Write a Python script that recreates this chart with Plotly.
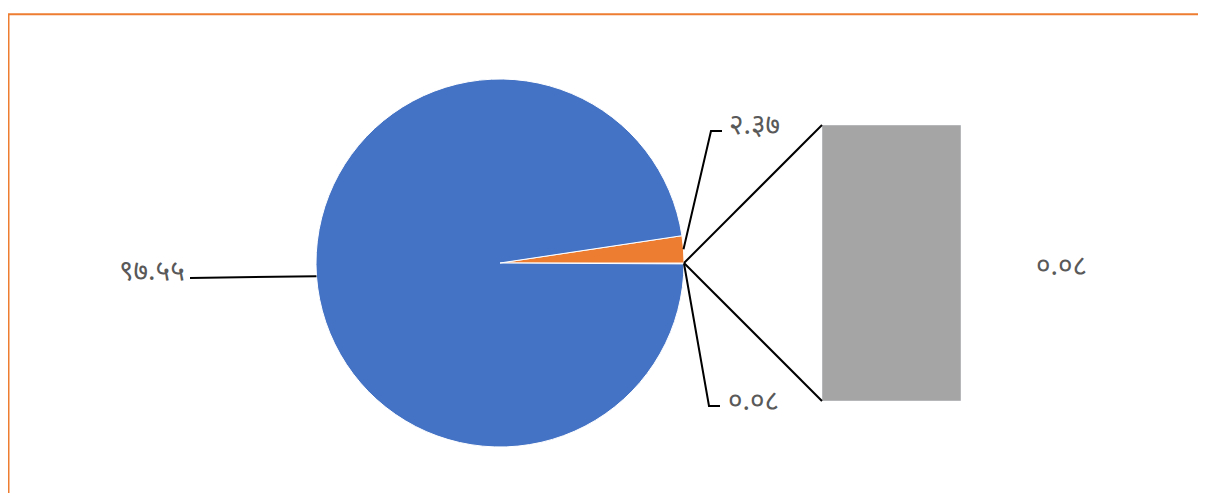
import math
import plotly.graph_objects as go

# डाटा (प्रतिशत) - Excel "bar of pie"
labels = ["अन्य", "दोस्रो", "पहिलो"]
values = [0.08, 2.37, 97.55]
bar_values = [0.08]
colors = ["#A5A5A5", "#ED7D31", "#4472C4"]

W, H = 1198, 485
OFF = 8  # page body margin
DEV = str.maketrans("0123456789", "०१२३४५६७८९")


def nep(v):
    return f"{v:.2f}".translate(DEV)


def px(x, y):
    # screen pixel -> paper
    return (x - OFF) / W, 1 - (y - OFF) / H


CX, CY, R = 500, 263, 184
BX0, BX1, BY0, BY1 = 822, 961, 125, 401
TEXT = "#595959"
LINE = dict(color="black", width=2)

fig = go.Figure()
fig.add_trace(go.Pie(
    labels=labels, values=values, sort=False,
    direction="counterclockwise", rotation=90,
    marker=dict(colors=colors, line=dict(color="white", width=1)),
    textinfo="none", hoverinfo="label+value", showlegend=False,
    domain=dict(x=[px(CX - R, 0)[0], px(CX + R, 0)[0]],
                y=[px(0, CY + R)[1], px(0, CY - R)[1]]),
))
fig.add_trace(go.Bar(
    x=[0], y=bar_values, marker_color=colors[0], width=1,
    showlegend=False, hoverinfo="y",
))

# slice mid angles, degrees counterclockwise from 3 o'clock
total = sum(values)
span = [v / total * 360 for v in values]
mid_other = -span[0] / 2
mid_orange = span[1] / 2
mid_blue = span[1] + span[2] / 2


def edge(angle):
    t = math.radians(angle)
    return CX + R * math.cos(t), CY - R * math.sin(t)


def path(*pts):
    parts = []
    for i, (x, y) in enumerate(pts):
        X, Y = px(x, y)
        parts.append(("M" if i == 0 else "L") + f" {X} {Y}")
    return " ".join(parts)


shapes = [
    dict(type="path", xref="paper", yref="paper", line=LINE,
         path=path(edge(mid_blue), (190, 278))),
    dict(type="path", xref="paper", yref="paper", line=LINE,
         path=path(edge(mid_orange), (711, 131), (722, 131))),
    dict(type="path", xref="paper", yref="paper", line=LINE,
         path=path(edge(mid_other), (709, 406), (720, 406))),
    dict(type="path", xref="paper", yref="paper", line=LINE,
         path=path((CX + R, CY), (BX0, BY0))),
    dict(type="path", xref="paper", yref="paper", line=LINE,
         path=path((CX + R, CY), (BX0, BY1))),
    # orange chart border
    dict(type="rect", xref="paper", yref="paper",
         x0=px(8.5, 0)[0], y0=-0.05, x1=1.05, y1=px(0, 14.2)[1],
         line=dict(color="#ED7D31", width=2), layer="above"),
]


def label(x, y, text, anchor):
    X, Y = px(x, y)
    return dict(x=X, y=Y, xref="paper", yref="paper", text=text,
                xanchor=anchor, yanchor="middle", showarrow=False)


ann = [
    label(187, 269, nep(values[2]), "right"),
    label(727, 123, nep(values[1]), "left"),
    label(726, 399, nep(values[0]), "left"),
    label(1061, 264, nep(bar_values[0]), "center"),
]

fig.update_layout(
    width=W, height=H,
    margin=dict(l=0, r=0, t=0, b=0),
    paper_bgcolor="white", plot_bgcolor="white",
    font=dict(family="Noto Sans, sans-serif", size=28, color=TEXT),
    xaxis=dict(domain=[px(BX0, 0)[0], px(BX1, 0)[0]], range=[-0.5, 0.5],
               visible=False),
    yaxis=dict(domain=[px(0, BY1)[1], px(0, BY0)[1]], range=[0, bar_values[0]],
               visible=False),
    shapes=shapes, annotations=ann,
)

fig.write_html("out.html")
